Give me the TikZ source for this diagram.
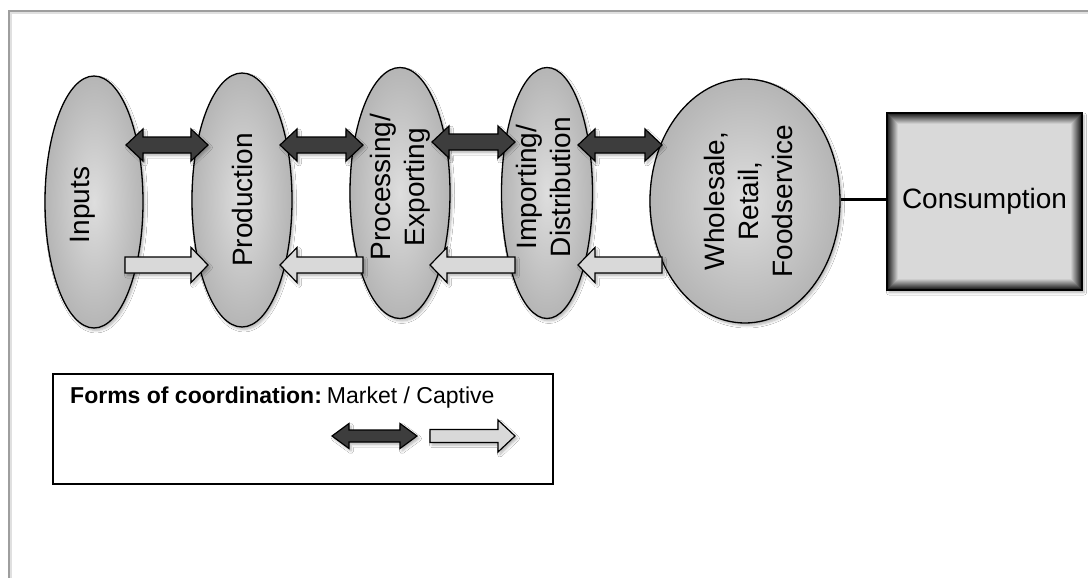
\documentclass[tikz,border=0pt]{standalone}
\usepackage{fontspec}
\setmainfont{Liberation Sans}
\usetikzlibrary{shapes.geometric,shadows.blur}

% double-headed block arrow: style, left tip x, right tip x, y, half shaft, half head
\newcommand\blockdouble[6]{%
  \path[#1] (#2,#4) -- (#2+17,#4-#6) -- (#2+17,#4-#5) -- (#3-17,#4-#5)
    -- (#3-17,#4-#6) -- (#3,#4) -- (#3-17,#4+#6) -- (#3-17,#4+#5)
    -- (#2+17,#4+#5) -- (#2+17,#4+#6) -- cycle;}
% single block arrow: style, tail x, tip x, y, half shaft, half head
\newcommand\blocksingle[6]{%
  \pgfmathsetmacro\tipbase{#3>#2 ? #3-17 : #3+17}%
  \path[#1] (#2,#4-#5) -- (\tipbase,#4-#5) -- (\tipbase,#4-#6) -- (#3,#4)
    -- (\tipbase,#4+#6) -- (\tipbase,#4+#5) -- (#2,#4+#5) -- cycle;}

\begin{document}
\begin{tikzpicture}[x=1pt,y=-1pt,
  softshadow/.style={blur shadow={shadow xshift=2pt, shadow yshift=-2.5pt,
      shadow opacity=30, shadow blur steps=6, shadow blur radius=2.5pt}},
  stage/.style={ellipse, draw=black, line width=1.3pt, inner sep=0pt,
      shading=radial, inner color=black!13, outer color=black!29, softshadow},
  stagetext/.style={rotate=90, align=center, inner sep=0pt,
      font=\fontsize{28}{34}\selectfont},
  market/.style={draw=black, line width=1.2pt, fill=black!76, softshadow},
  captive/.style={draw=black, line width=1.2pt, fill=black!15, softshadow},
  consbox/.style={rectangle, draw=black, line width=1.6pt, fill=black!15,
      inner sep=0pt, font=\fontsize{28}{34}\selectfont, softshadow,
      path picture={
        \foreach \i [evaluate=\i as \c using int(90-7*\i)] in {0,...,10}
          \draw[line width=1.2pt, black!\c]
            ([xshift=\i pt+0.6pt, yshift=-\i pt-0.6pt]path picture bounding box.north west)
            rectangle
            ([xshift=-\i pt-0.6pt, yshift=\i pt+0.6pt]path picture bounding box.south east);
      }},
]
\useasboundingbox (0,0) rectangle (1088,578);
\fill[white] (0,0) rectangle (1088,578);

% page frame
\draw[black!12, line width=2pt] (11,578) -- (11,13) -- (1088,13);
\draw[black!38, line width=2pt] (9,578) -- (9,11) -- (1088,11);

% stages of the chain
\node[stage, minimum width=98pt,  minimum height=252pt] (inp) at (94,202)  {};
\node[stage, minimum width=100pt, minimum height=254pt] (pro) at (242,200) {};
\node[stage, minimum width=100pt, minimum height=251pt] (prc) at (400,193) {};
\node[stage, minimum width=91pt,  minimum height=251pt] (imp) at (547,193) {};
\node[stage, minimum width=190pt, minimum height=244pt] (who) at (745,201) {};

\node[stagetext] (inpT) at ([xshift=-11pt, yshift=-3pt]inp.center) {Inputs};
\node[stagetext] (proT) at (pro.center) {Production};
\node[stagetext] (prcT) at ([yshift=6pt]prc.center) {Processing/\\Exporting};
\node[stagetext] (impT) at ([xshift=-4pt, yshift=6pt]imp.center) {Importing/\\Distribution};
\node[stagetext] (whoT) at ([xshift=3pt]who.center) {Wholesale,\\Retail,\\Foodservice};

% final consumer
\node[consbox, minimum width=195pt, minimum height=177pt] (cons) at (984.5,201.5) {Consumption};
\draw[line width=3pt] (who.east |- 0,199) -- (cons.west |- 0,199);

% market links (two-way)
\blockdouble{market}{126}{208}{145}{8}{16}
\blockdouble{market}{280}{363}{145}{8}{16}
\blockdouble{market}{432}{515}{142}{8}{16}
\blockdouble{market}{578}{662}{145}{8}{16}

% captive links (one-way)
\blocksingle{captive}{125}{208}{265}{8}{17.5}
\blocksingle{captive}{363}{280}{265}{8}{17.5}
\blocksingle{captive}{515}{430}{265}{8}{17.5}
\blocksingle{captive}{662}{578}{265}{8}{17.5}

% legend
\node[draw=black, line width=1.5pt, minimum width=500pt, minimum height=110pt,
      anchor=north west, inner sep=0pt] (legend) at (52,373) {};
\node[anchor=base west, inner sep=0pt, font=\fontsize{23}{27}\selectfont]
      (legtxt) at (70,403) {\textbf{Forms of coordination:}\hspace{-0.15em} Market / Captive};
\blockdouble{market}{332}{417}{436}{6}{12.5}
\blocksingle{captive}{430}{515}{436}{6.5}{16}
\end{tikzpicture}
\end{document}
